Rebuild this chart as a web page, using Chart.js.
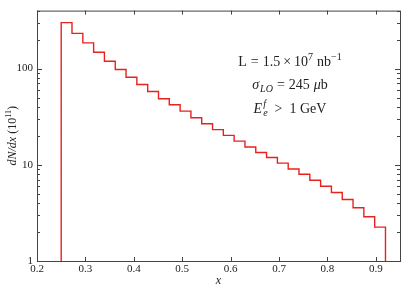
<!DOCTYPE html>
<html>
<head>
<meta charset="utf-8">
<script src="https://cdn.jsdelivr.net/npm/chart.js@4.4.1/dist/chart.umd.min.js"></script>
<style>
  html, body { margin: 0; padding: 0; background: #fff; }
  #wrap { width: 415px; height: 290px; }
</style>
</head>
<body>
<div id="wrap"><canvas id="histChart" width="415" height="290"></canvas></div>
<script>
// bin edges in x (30 bins from 0.25 to 0.92)
const binEdges = [0.25, 0.2723, 0.2947, 0.317, 0.3393, 0.3617, 0.384, 0.4063, 0.4287, 0.451,
  0.4733, 0.4957, 0.518, 0.5403, 0.5627, 0.585, 0.6073, 0.6297, 0.652, 0.6743,
  0.6967, 0.719, 0.7413, 0.7637, 0.786, 0.8083, 0.8307, 0.853, 0.8753, 0.8977, 0.92];
// dN/dx per bin (units of 10^11)
const binCounts = [300, 232, 185, 147.5, 119, 97.7, 81.3, 68.3, 57.8, 48.5,
  42.1, 36.1, 30.8, 26.7, 23.2, 20.2, 17.6, 15.3, 13.4, 11.9,
  10.4, 9.05, 7.97, 6.91, 5.99, 5.15, 4.36, 3.57, 2.88, 2.25];
const xTicks = [0.2, 0.3, 0.4, 0.5, 0.6, 0.7, 0.8, 0.9];
const yTicks = [1, 10, 100];
const yMinorTicks = [2, 3, 4, 5, 6, 7, 8, 9, 20, 30, 40, 50, 60, 70, 80, 90, 200, 300, 400];

const serif = '"Liberation Serif", "DejaVu Serif", serif';
const axisColor = '#444';
const lineColor = '#e8201e';

// step outline: up at first edge, down at last edge
const yFloor = 1;
const stepPoints = [{ x: binEdges[0], y: yFloor }]
  .concat(binCounts.map((c, i) => ({ x: binEdges[i], y: c })))
  .concat([{ x: binEdges[binEdges.length - 1], y: binCounts[binCounts.length - 1] }])
  .concat([{ x: binEdges[binEdges.length - 1], y: yFloor }]);

// draw a run of text pieces, centred on cx
function drawPieces(ctx, pieces, cx, baseline) {
  let total = 0;
  const widths = pieces.map(p => {
    ctx.font = p.font;
    const w = ctx.measureText(p.t).width;
    if (!p.stack) total += w + (p.gap || 0);
    return w;
  });
  let x = cx - total / 2;
  pieces.forEach((p, i) => {
    ctx.font = p.font;
    ctx.fillText(p.t, x, baseline + (p.dy || 0));
    if (!p.stack) x += widths[i] + (p.gap || 0);
  });
}

const decorations = {
  id: 'decorations',
  afterDraw(chart) {
    const { ctx, chartArea: a, scales } = chart;
    const xs = scales.x, ys = scales.y;
    ctx.save();
    ctx.strokeStyle = axisColor;
    ctx.lineWidth = 1;
    ctx.strokeRect(a.left + 0.5, a.top + 0.5, a.right - a.left, a.bottom - a.top);

    ctx.beginPath();
    xTicks.forEach(v => {
      const px = Math.round(xs.getPixelForValue(v)) + 0.5;
      ctx.moveTo(px, a.bottom); ctx.lineTo(px, a.bottom - 4);
      ctx.moveTo(px, a.top); ctx.lineTo(px, a.top + 4);
    });
    yTicks.forEach(v => {
      const py = Math.round(ys.getPixelForValue(v)) + 0.5;
      ctx.moveTo(a.left, py); ctx.lineTo(a.left + 5, py);
      ctx.moveTo(a.right, py); ctx.lineTo(a.right - 5, py);
    });
    yMinorTicks.forEach(v => {
      const py = Math.round(ys.getPixelForValue(v)) + 0.5;
      ctx.moveTo(a.left, py); ctx.lineTo(a.left + 3, py);
      ctx.moveTo(a.right, py); ctx.lineTo(a.right - 3, py);
    });
    ctx.stroke();

    // annotation block
    ctx.fillStyle = '#222';
    ctx.textAlign = 'left';
    const f = '14px ' + serif, fi = 'italic 14px ' + serif;
    const s = '10px ' + serif, si = 'italic 10px ' + serif;
    const cx = 290;
    drawPieces(ctx, [
      { t: 'L', font: f, gap: 4 },
      { t: '=', font: f, gap: 4 },
      { t: '1.5', font: f, gap: 3 },
      { t: '\u00d7', font: f, gap: 3 },
      { t: '10', font: f },
      { t: '7', font: s, dy: -6, gap: 4 },
      { t: 'nb', font: f },
      { t: '\u22121', font: s, dy: -6 }
    ], cx, 66);
    drawPieces(ctx, [
      { t: '\u03c3', font: fi, gap: 1 },
      { t: 'LO', font: si, dy: 3, gap: 4 },
      { t: '=', font: f, gap: 4 },
      { t: '245', font: f, gap: 4 },
      { t: '\u03bc', font: fi },
      { t: 'b', font: f }
    ], cx, 89);
    drawPieces(ctx, [
      { t: 'E', font: fi, gap: 1 },
      { t: 'f', font: si, dy: -6, stack: true },
      { t: 'e', font: si, dy: 3, gap: 7 },
      { t: '>', font: f, gap: 7 },
      { t: '1 GeV', font: f }
    ], cx, 113);

    // y axis title
    ctx.save();
    ctx.translate(12, (a.top + a.bottom) / 2);
    ctx.rotate(-Math.PI / 2);
    drawPieces(ctx, [
      { t: 'dN/dx', font: 'italic 12px ' + serif },
      { t: ' (10', font: '12px ' + serif },
      { t: '11', font: '8px ' + serif, dy: -5 },
      { t: ')', font: '12px ' + serif }
    ], 0, 4);
    ctx.restore();

    // x axis title
    ctx.font = 'italic 12px ' + serif;
    ctx.textAlign = 'center';
    ctx.fillText('x', (a.left + a.right) / 2, 284);
    ctx.restore();
  }
};

new Chart(document.getElementById('histChart'), {
  type: 'line',
  data: {
    datasets: [{
      data: stepPoints,
      stepped: 'before',
      borderColor: lineColor,
      borderWidth: 1.4,
      pointRadius: 0,
      fill: false
    }]
  },
  options: {
    responsive: false,
    animation: false,
    layout: { padding: { top: 10, right: 15, left: 0, bottom: 0 } },
    plugins: { legend: { display: false }, tooltip: { enabled: false } },
    scales: {
      x: {
        type: 'linear',
        min: 0.2,
        max: 0.95,
        grid: { display: false, drawTicks: false, tickLength: 0 },
        border: { display: false },
        afterBuildTicks: (scale) => { scale.ticks = xTicks.map(v => ({ value: v })); },
        afterFit: (scale) => { scale.height = 29; },
        ticks: {
          color: '#222',
          padding: 2,
          font: { family: serif, size: 11 },
          maxRotation: 0,
          callback: (v) => v.toFixed(1)
        }
      },
      y: {
        type: 'logarithmic',
        min: 1,
        max: 400,
        grid: { display: false, drawTicks: false, tickLength: 0 },
        border: { display: false },
        afterBuildTicks: (scale) => { scale.ticks = yTicks.map(v => ({ value: v })); },
        afterFit: (scale) => { scale.width = 37; },
        ticks: {
          color: '#222',
          padding: 4,
          font: { family: serif, size: 11 },
          callback: (v) => String(v)
        }
      }
    }
  },
  plugins: [decorations]
});
</script>
</body>
</html>
